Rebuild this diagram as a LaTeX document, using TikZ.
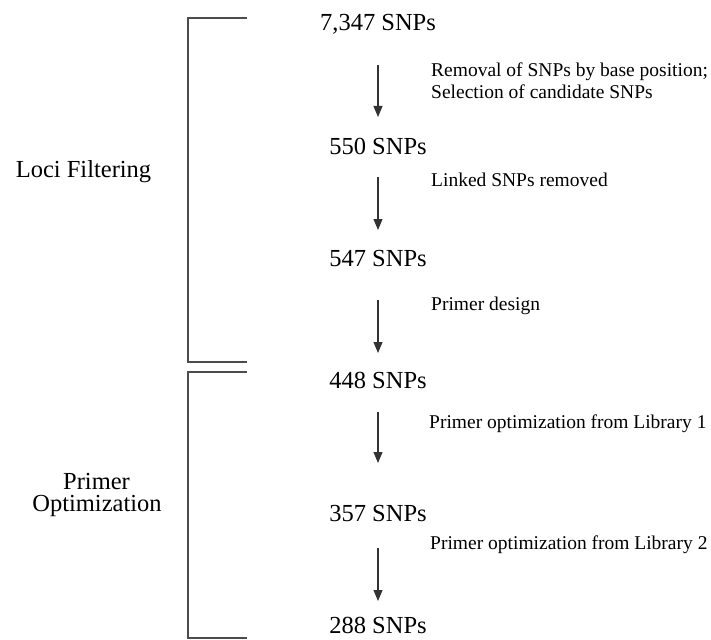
\documentclass[tikz,border=0pt]{standalone}
\usepackage{fontspec}
\setmainfont{Liberation Serif}
\usetikzlibrary{arrows.meta}
\begin{document}
\begin{tikzpicture}[x=1pt,y=-1pt,
  big/.style={anchor=base,inner sep=0pt,font=\fontsize{24.5}{29}\selectfont},
  lbl/.style={anchor=base west,inner sep=0pt,font=\fontsize{19.5}{23}\selectfont},
  side/.style={anchor=base,inner sep=0pt,font=\fontsize{24.5}{29}\selectfont},
  flow/.style={draw=black!80,line width=1.1pt,-{Triangle[width=9pt,length=11pt]}},
  brack/.style={draw=black!70,line width=1.1pt}]
\useasboundingbox (0,0) rectangle (711,639);
% counts
\node[big] (n1) at (378,31) {7,347 SNPs};
\node[big] (n2) at (378,155) {550 SNPs};
\node[big] (n3) at (378,266) {547 SNPs};
\node[big] (n4) at (378,388) {448 SNPs};
\node[big] (n5) at (378,521) {357 SNPs};
\node[big] (n6) at (378,633) {288 SNPs};
% arrows
\coordinate (a1s) at (378,65);  \coordinate (a1e) at (378,117);
\coordinate (a2s) at (378,177); \coordinate (a2e) at (378,230);
\coordinate (a3s) at (378,300); \coordinate (a3e) at (378,353);
\coordinate (a4s) at (378,412); \coordinate (a4e) at (378,463);
\coordinate (a5s) at (378,548); \coordinate (a5e) at (378,601);
\draw[flow] (a1s) -- (a1e);
\draw[flow] (a2s) -- (a2e);
\draw[flow] (a3s) -- (a3e);
\draw[flow] (a4s) -- (a4e);
\draw[flow] (a5s) -- (a5e);
% step labels
\node[lbl] (l1a) at (431,77) {Removal of SNPs by base position;};
\node[lbl] (l1b) at (431,99) {Selection of candidate SNPs};
\node[lbl] (l2) at (431,186) {Linked SNPs removed};
\node[lbl] (l3) at (431,310) {Primer design};
\node[lbl] (l4) at (429,428) {Primer optimization from Library 1};
\node[lbl] (l5) at (430,549) {Primer optimization from Library 2};
% side labels
\node[side] (s1) at (83.5,177) {Loci Filtering};
\node[side] (s2a) at (96.5,489) {Primer};
\node[side] (s2b) at (97,511) {Optimization};
% brackets
\draw[brack] (247,18) -- (188,18) -- (188,362) -- (247,362);
\draw[brack] (247,372) -- (188,372) -- (188,638) -- (247,638);
\end{tikzpicture}
\end{document}
